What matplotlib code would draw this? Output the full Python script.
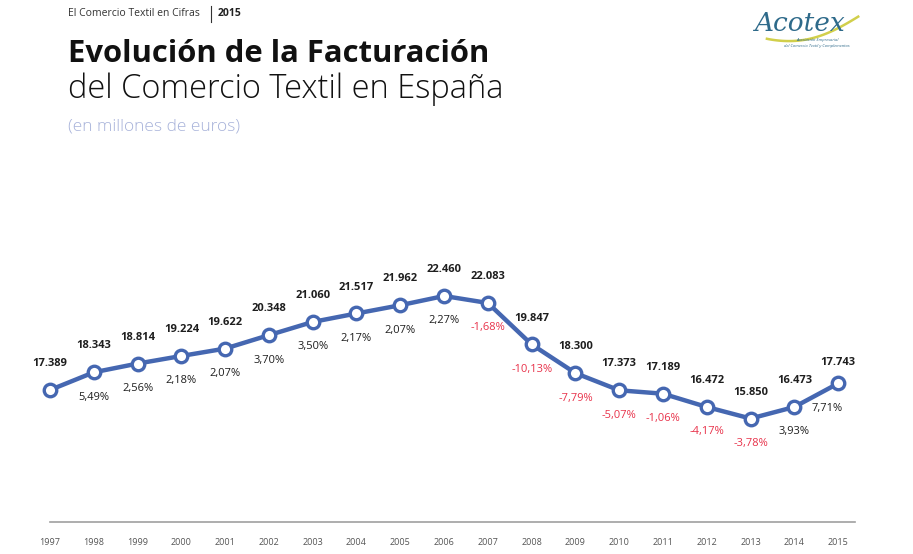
import numpy as np
import matplotlib.pyplot as plt
from matplotlib.transforms import blended_transform_factory

years = [str(y) for y in range(1997, 2016)]
facturacion = [17389, 18343, 18814, 19224, 19622, 20348, 21060, 21517, 21962, 22460,
               22083, 19847, 18300, 17373, 17189, 16472, 15850, 16473, 17743]
variacion = [None, 5.49, 2.56, 2.18, 2.07, 3.70, 3.50, 2.17, 2.07, 2.27,
             -1.68, -10.13, -7.79, -5.07, -1.06, -4.17, -3.78, 3.93, 7.71]

BLUE = "#4567B1"
RED = "#E8324A"
DARK = "#1E1E1E"

plt.rcParams['font.family'] = ['Open Sans', 'DejaVu Sans']

fig = plt.figure(figsize=(9.13, 5.54), dpi=100)
ax = fig.add_axes([0, 0, 1, 1])
ax.set_xlim(-1.142, 19.71)
ax.set_ylim(8543, 38425)
ax.axis('off')

x = list(range(len(years)))
ax.plot(x, facturacion, color=BLUE, lw=3.2, marker='o', ms=9, mfc='white',
        mec=BLUE, mew=2.4, zorder=3)

def fmt_miles(v):
    return f"{v:,}".replace(",", ".")

for i, v in enumerate(facturacion):
    dy = 11 if i == len(facturacion) - 1 else 15
    ax.annotate(fmt_miles(v), (i, v), xytext=(0, dy), textcoords='offset points',
                ha='center', va='bottom', fontsize=8, fontweight='bold', color=DARK)
    p = variacion[i]
    if p is None:
        continue
    txt = f"{p:.2f}".replace(".", ",") + "%"
    off = (-8, -14) if i == len(facturacion) - 1 else (0, -14)
    ax.annotate(txt, (i, v), xytext=off, textcoords='offset points',
                ha='center', va='top', fontsize=8,
                color=RED if p < 0 else DARK)

# baseline and year labels
ax.plot([0, 18.39], [10269, 10269], color='#A0A0A0', lw=1.2)
tr = blended_transform_factory(ax.transData, ax.transAxes)
for i, y in enumerate(years):
    ax.text(i, 0.02, y, transform=tr, ha='center', va='center',
            fontsize=6.5, color='#555555')

# header
fig.text(0.0745, 0.975, "El Comercio Textil en Cifras", fontsize=7.5, color='#333333',
         va='center', ha='left')
fig.add_artist(plt.Line2D([0.2315, 0.2315], [0.96, 0.99], color='#333333', lw=0.8))
fig.text(0.238, 0.975, "2015", fontsize=7.5, fontweight='bold', color='#222222',
         va='center', ha='left')

fig.text(0.0745, 0.888, "Evolución de la Facturación", fontsize=22.3, fontweight='bold',
         color='#111111', va='baseline', ha='left')
fig.text(0.0745, 0.823, "del Comercio Textil en España", fontsize=23.5, fontweight='light',
         color='#111111', va='baseline', ha='left')
fig.text(0.0745, 0.765, "(en millones de euros)", fontsize=12.5, fontweight='light',
         color='#A8B3DA', va='baseline', ha='left')

# logo
t = np.linspace(0, 1, 60)
fig.add_artist(plt.Line2D(0.84 + 0.10 * t, 0.93 + 0.04 * t ** 1.6 - 0.012 * np.sin(np.pi * t),
                          color='#C9C72B', lw=1.8, alpha=0.85))
fig.text(0.826, 0.957, "Acotex", fontsize=19, family='DejaVu Serif', style='italic',
         color='#2E6A8A', va='center', ha='left')
fig.text(0.895, 0.928, "Asociación Empresarial", fontsize=3, style='italic',
         color='#2E6A8A', va='center', ha='center')
fig.text(0.895, 0.917, "del Comercio Textil y Complementos", fontsize=3, style='italic',
         color='#2E6A8A', va='center', ha='center')

fig.savefig("out.png", dpi=100)
